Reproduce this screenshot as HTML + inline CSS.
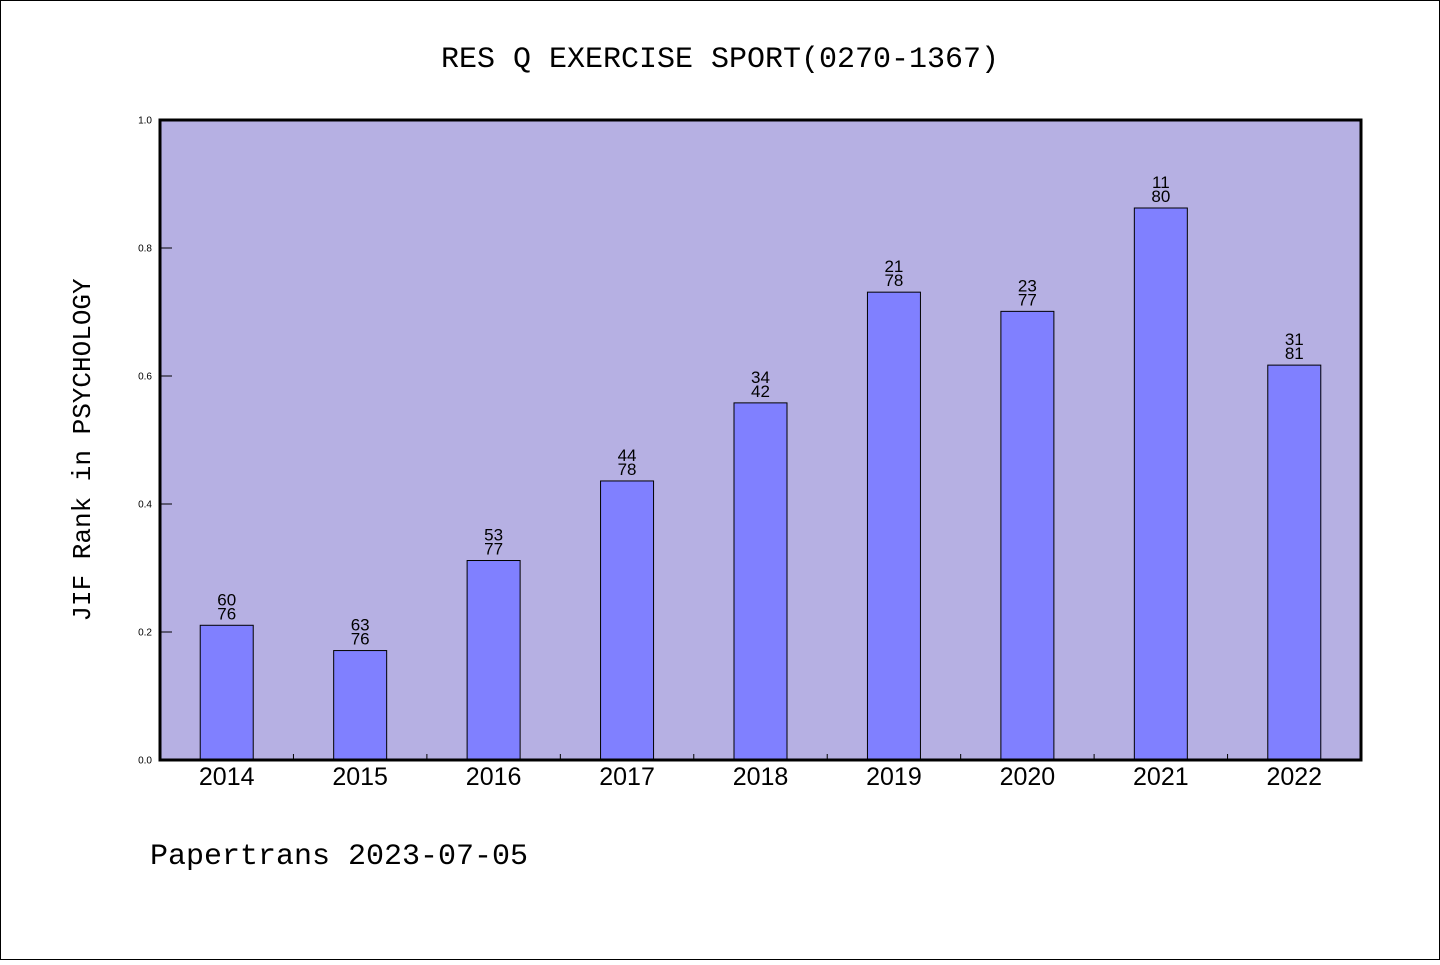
<!DOCTYPE html>
<html><head><meta charset="utf-8"><style>
body{margin:0;background:#fff}
svg text{font-family:"WenQuanYi Zen Hei Mono","WenQuanYi Zen Hei","Liberation Mono",monospace;fill:#000}
svg text.s{font-family:"Liberation Sans",sans-serif}
</style></head><body>
<svg width="1440" height="960">
<rect x="0.5" y="0.5" width="1439" height="959" fill="#fff" stroke="#000"/>
<text x="720" y="67" font-size="30" text-anchor="middle">RES Q EXERCISE SPORT(0270-1367)</text>
<rect x="160" y="120" width="1201" height="640" fill="#b6b0e3"/>
<g id="marks"></g>
<rect x="160" y="120" width="1201" height="640" fill="none" stroke="#000" stroke-width="3"/>
<text transform="translate(90,450) rotate(-90)" font-size="26" text-anchor="middle">JIF Rank in PSYCHOLOGY</text>
<text x="150" y="864" font-size="30">Papertrans 2023-07-05</text>
</svg>
<script>
const categories=["2014","2015","2016","2017","2018","2019","2020","2021","2022"];
const values=[0.2105,0.171,0.3117,0.436,0.558,0.731,0.701,0.8625,0.617];
const ranks=["60","63","53","44","34","21","23","11","31"];
const totals=["76","76","77","78","42","78","77","80","81"];
const yTicks=[0,0.2,0.4,0.6,0.8,1.0];
const X0=160,W=1201,Y0=760,H=640;
const step=W/categories.length;
const xc=i=>X0+step*(i+0.5);
const y=v=>Y0-v*H;
const g=document.getElementById('marks');
const NS='http://www.w3.org/2000/svg';
function mk(t,a){const e=document.createElementNS(NS,t);for(const k in a)e.setAttribute(k,a[k]);g.appendChild(e);return e;}
yTicks.forEach(v=>{
  const l=mk('line',{x1:X0,x2:X0+12,y1:y(v),y2:y(v),stroke:'#000','stroke-width':1});
  
  
  const t=mk('text',{x:X0-8,y:y(v)+3.5,'font-size':10,'text-anchor':'end','class':'s'});
  t.textContent=v.toFixed(1);
  
  
});
for(let i=1;i<categories.length;i++){
  const l=mk('line',{x1:X0+step*i,x2:X0+step*i,y1:Y0,y2:Y0-6,stroke:'#000','stroke-width':1});
  
  
}
categories.forEach((c,i)=>{
  const bw=53;
  const r=mk('rect',{x:xc(i)-bw/2,y:y(values[i]),width:bw,height:Y0-y(values[i]),fill:'#8080ff',stroke:'#000','stroke-width':1});
  
  
  const t1=mk('text',{x:xc(i),y:y(values[i])-20,'font-size':17,'text-anchor':'middle','class':'s'});
  t1.textContent=ranks[i];
  
  
  const t2=mk('text',{x:xc(i),y:y(values[i])-6,'font-size':17,'text-anchor':'middle','class':'s'});
  t2.textContent=totals[i];
  
  
  const xl=mk('text',{x:xc(i),y:785,'font-size':25,'text-anchor':'middle','class':'s'});
  xl.textContent=c;
  
  
});
</script>
</body></html>
